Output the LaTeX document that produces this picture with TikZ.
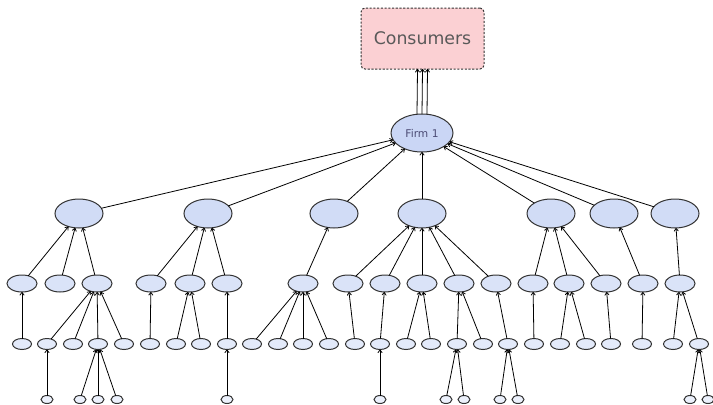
\documentclass[tikz,border=0pt]{standalone}
\usepackage{fontspec}
\setmainfont{DejaVu Sans}
\usetikzlibrary{shapes.geometric,arrows.meta}
\definecolor{pinkfill}{HTML}{FBD0D3}
\definecolor{firmfill}{HTML}{CAD6F5}
\definecolor{lvtwo}{HTML}{D1DCF6}
\definecolor{lvthree}{HTML}{DAE3F8}
\definecolor{lvfour}{HTML}{E3EAFA}
\definecolor{lvfive}{HTML}{ECF1FC}
\definecolor{edgegray}{HTML}{333333}
\tikzset{
  every node/.style={inner sep=0pt, outer sep=0pt},
  ell/.style={ellipse, draw=edgegray, line width=0.75pt},
  firmnode/.style={ell, fill=firmfill, minimum width=46.5pt, minimum height=28.5pt, font=\fontsize{8}{9}\selectfont, text=black!60!blue!40!gray},
  ltwo/.style={ell, fill=lvtwo, minimum width=36pt, minimum height=21.75pt},
  lthree/.style={ell, fill=lvthree, minimum width=22.5pt, minimum height=12.75pt},
  lfour/.style={ell, fill=lvfour, minimum width=14.25pt, minimum height=8.25pt},
  lfive/.style={ell, fill=lvfive, minimum width=9pt, minimum height=6pt},
  consnode/.style={rectangle, rounded corners=3pt, draw=edgegray, line width=0.75pt, dash pattern=on 1.6pt off 1.2pt, fill=pinkfill, minimum width=92.25pt, minimum height=45.75pt, font=\fontsize{13}{15}\selectfont, text=black!65},
  arr/.style={-{To[length=2.6pt,width=3.6pt]}, line width=0.6pt, black}
}
\begin{document}
\begin{tikzpicture}[x=0.75pt,y=-0.75pt]
\useasboundingbox (0,0) rectangle (713,404);
\node[consnode] (cons) at (422.5,38.5) {Consumers};
\node[firmnode] (f1) at (422,133) {Firm 1};
\foreach \x [count=\i] in {79,208,334,422,551,614,675}
  \node[ltwo] (a\i) at (\x,213.5) {};
\foreach \x [count=\i] in {22,60,97,151,190,227,303,348,385,422,459,496,533,569,606,643,680}
  \node[lthree] (b\i) at (\x,283.5) {};
\foreach \x [count=\i] in {22,47,73,98,124,150,176,201,227,252,278,303,329,355,380,406,431,457,483,508,534,560,586,611,642,673,699}
  \node[lfour] (c\i) at (\x,344) {};
\foreach \x [count=\i] in {47,80,98,117,227,380,446,464,500,518,690,708}
  \node[lfive] (d\i) at (\x,399.5) {};
% firm to consumers
\draw[arr] ([xshift=-3.75pt]f1.north) -- ([xshift=-3.75pt]cons.south);
\draw[arr] (f1.north) -- (cons.south);
\draw[arr] ([xshift=3.75pt]f1.north) -- ([xshift=3.75pt]cons.south);
% level 2 to firm
\foreach \c in {a1,a2,a3,a4,a5,a6,a7}
  \draw[arr] (\c) -- (f1);
% level 3 to level 2
\foreach \c/\p in {b1/a1,b2/a1,b3/a1,b4/a2,b5/a2,b6/a2,b7/a3,b8/a4,b9/a4,b10/a4,b11/a4,b12/a4,b13/a5,b14/a5,b15/a5,b16/a6,b17/a7}
  \draw[arr] (\c) -- (\p);
% level 4 to level 3
\foreach \c/\p in {c1/b1,c2/b3,c3/b3,c4/b3,c5/b3,c6/b4,c7/b5,c8/b5,c9/b6,c10/b7,c11/b7,c12/b7,c13/b7,c14/b8,c15/b9,c16/b10,c17/b10,c18/b11,c19/b11,c20/b12,c21/b13,c22/b14,c23/b14,c24/b15,c25/b16,c26/b17,c27/b17}
  \draw[arr] (\c) -- (\p);
% level 5 to level 4
\foreach \c/\p in {d1/c2,d2/c4,d3/c4,d4/c4,d5/c9,d6/c15,d7/c18,d8/c18,d9/c20,d10/c20,d11/c27,d12/c27}
  \draw[arr] (\c) -- (\p);
\end{tikzpicture}
\end{document}
